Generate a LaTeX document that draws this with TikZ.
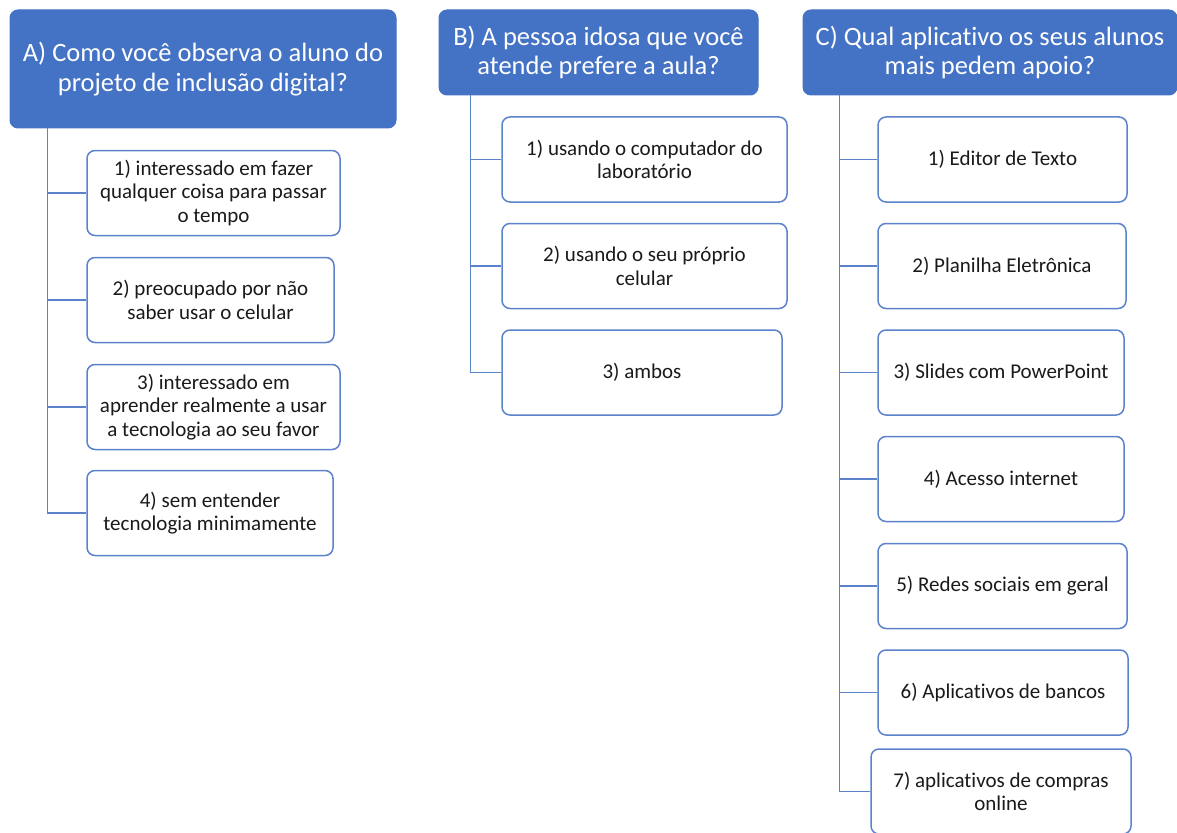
\documentclass[tikz,border=0pt]{standalone}
\usepackage{fontspec}
\setmainfont{Carlito}[Ligatures=NoCommon]
\definecolor{hdrblue}{HTML}{4472C4}
\definecolor{lineblue}{HTML}{5B82CB}
\definecolor{txt}{HTML}{1A1A1A}
\begin{document}
\begin{tikzpicture}[x=1pt,y=-1pt,
  hdr/.style={draw=hdrblue, fill=hdrblue, line width=1pt, rounded corners=8pt, text=white,
    align=center, inner sep=0pt, font=\fontsize{26.5}{29.5}\selectfont},
  item/.style={draw=lineblue, fill=white, line width=1.5pt, rounded corners=8pt, text=txt,
    align=center, inner sep=0pt, minimum height=85pt, font=\fontsize{21}{23.5}\selectfont},
  conn/.style={draw=lineblue, line width=1.5pt}]
\useasboundingbox (0,0) rectangle (1177,832);
\begin{scope}
\clip (0,0) rectangle (1177,832);
% headers
\node[hdr, minimum width=386pt, minimum height=118pt] (A) at (203,69) {A) Como você observa o aluno do\\projeto de inclusão digital?};
\node[hdr, minimum width=319pt, minimum height=85pt] (B) at (598.5,52.5) {B) A pessoa idosa que você\\atende prefere a aula?};
\node[hdr, minimum width=374pt, minimum height=85pt] (C) at (990,52.5) {C) Qual aplicativo os seus alunos\\mais pedem apoio?};
% column A
\node[item, minimum width=253pt] (a1) at (213.5,193) {1) interessado em fazer\\qualquer coisa para passar\\o tempo};
\node[item, minimum width=247pt] (a2) at (210.5,300) {2) preocupado por não\\saber usar o celular};
\node[item, minimum width=253pt] (a3) at (213.5,407) {3) interessado em\\aprender realmente a usar\\a tecnologia ao seu favor};
\node[item, minimum width=246pt] (a4) at (210,513) {4) sem entender\\tecnologia minimamente};
% column B
\node[item, minimum width=285pt] (b1) at (644.5,159.5) {1) usando o computador do\\laboratório};
\node[item, minimum width=285pt] (b2) at (644.5,266) {2) usando o seu próprio\\celular};
\node[item, minimum width=280pt] (b3) at (642,372.5) {3) ambos};
% column C
\node[item, minimum width=249pt] (c1) at (1002.5,159.5) {1) Editor de Texto};
\node[item, minimum width=248pt] (c2) at (1002,266) {2) Planilha Eletrônica};
\node[item, minimum width=246pt] (c3) at (1001,372.5) {3) Slides com PowerPoint};
\node[item, minimum width=246pt] (c4) at (1001,479) {4) Acesso internet};
\node[item, minimum width=249pt] (c5) at (1002.5,586) {5) Redes sociais em geral};
\node[item, minimum width=250pt] (c6) at (1003,692.5) {6) Aplicativos de bancos};
\node[item, minimum width=260pt] (c7) at (1001,791.5) {7) aplicativos de compras\\online};
% connectors
\foreach \n in {a1,a2,a3,a4} \draw[conn] ([xshift=38pt]A.south west) |- (\n.west);
\foreach \n in {b1,b2,b3} \draw[conn] ([xshift=32pt]B.south west) |- (\n.west);
\foreach \n in {c1,c2,c3,c4,c5,c6,c7} \draw[conn] ([xshift=37pt]C.south west) |- (\n.west);
\end{scope}
\end{tikzpicture}
\end{document}
